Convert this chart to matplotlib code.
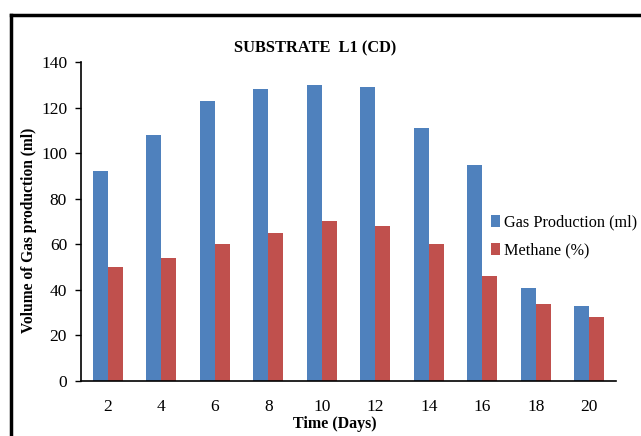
import matplotlib
matplotlib.use("Agg")
import matplotlib.pyplot as plt
import numpy as np
from matplotlib.lines import Line2D

days = ["2", "4", "6", "8", "10", "12", "14", "16", "18", "20"]
gas_production = [92, 108, 123, 128, 130, 129, 111, 95, 41, 33]
methane = [50, 54, 60, 65, 70, 68, 60, 46, 34, 28]
y_ticks = [0, 20, 40, 60, 80, 100, 120, 140]

plt.rcParams['font.family'] = ['Liberation Serif', 'DejaVu Serif']

W, H = 641, 436
fig = plt.figure(figsize=(W/100, H/100), dpi=100)
ax = fig.add_axes([81/W, 1-381/H, (616-81)/W, (381-62)/H])

x = np.arange(len(days))
bw = 0.28
blue = '#4F81BD'
red = '#C0504D'
ax.bar(x - bw/2, gas_production, bw, color=blue, label='Gas Production (ml)')
ax.bar(x + bw/2, methane, bw, color=red, label='Methane (%)')

ax.set_xlim(-0.5, len(days) - 0.5)
ax.set_ylim(0, 140)
ax.set_yticks(y_ticks)
ax.set_xticks(x)
ax.set_xticklabels(days)
ax.tick_params(axis='y', length=4, width=1, labelsize=12.5, pad=6, direction='out')
ax.tick_params(axis='x', length=0, labelsize=12.5, pad=13)
for s in ['top', 'right']:
    ax.spines[s].set_visible(False)
ax.spines['left'].set_linewidth(1.2)
ax.spines['bottom'].set_linewidth(1.2)

ax.set_ylabel('Volume of Gas production (ml)', fontsize=11.2, fontweight='bold')
ax.yaxis.set_label_coords(-44/(616-81), (381-230)/(381-62))
fig.text(335/W, 1-424/H, 'Time (Days)', ha='center', va='center', fontsize=11.5, fontweight='bold')
fig.text(315/W, 1-48/H, 'SUBSTRATE  L1 (CD)', ha='center', va='center', fontsize=11.8, fontweight='bold')

leg = fig.legend(loc='upper left', bbox_to_anchor=(476/W, 1-200/H), frameon=False,
                 fontsize=11.7, handlelength=0.6, handleheight=0.7, handletextpad=0.25,
                 labelspacing=0.75)

# outer frame (top and left edges visible)
fig.add_artist(Line2D([11/W, 11/W], [0, 1-15/H], color='black', lw=2.5, transform=fig.transFigure))
fig.add_artist(Line2D([11/W, 1.0], [1-15/H, 1-15/H], color='black', lw=2.5, transform=fig.transFigure))

fig.savefig('out.png', dpi=100)
